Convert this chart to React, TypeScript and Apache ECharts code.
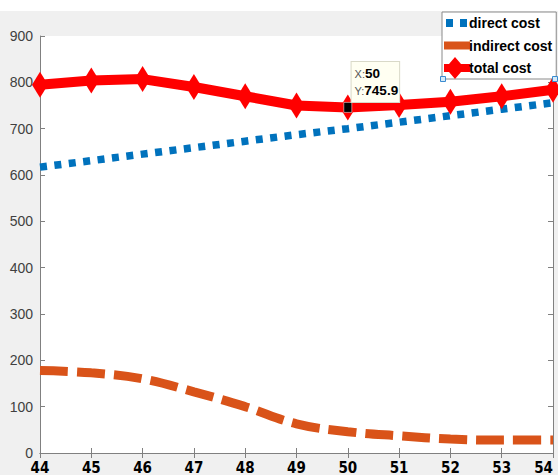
import React, { useEffect, useRef } from "react";
import * as echarts from "echarts";

const xValues = [44, 45, 46, 47, 48, 49, 50, 51, 52, 53, 54];
const directCost = [617, 631, 645, 659, 673, 687, 700, 714, 728, 742, 756];
const indirectCost = [178, 173, 160, 132, 100, 63, 46, 37, 30, 28, 28];
const totalCost = [795, 804, 807, 790, 770, 750, 745.9, 751, 758, 770, 784];
const seriesNames = ["direct cost", "indirect cost", "total cost"];
const tipPoint = { x: 50, y: 745.9 };

const pairs = (ys: number[]) => xValues.map((x, i) => [x, ys[i]]);

const axisColor = "#808080";

// tiny corner marks keep every icon's bounding box at 26 x 22
const corners = " M0,0h0.01v0.01h-0.01Z M25.99,21.99h0.01v0.01h-0.01Z";
const iconDirect = "path://M2,7H9V15H2Z M16,7H23V15H16Z" + corners;
const iconIndirect = "path://M0,7H26V15H0Z" + corners;
const iconTotal = "path://M0,7H5L11,0L17,7H26V15H17L11,22L5,15H0Z" + corners;

export default function App() {
  const ref = useRef<HTMLDivElement>(null);
  useEffect(() => {
    if (!ref.current) return;
    const chart = echarts.init(ref.current, undefined, { renderer: "svg" });
    const baseX = {
      type: "value" as const,
      min: 44,
      max: 54,
      interval: 1,
      splitLine: { show: false },
      axisLine: { show: true, lineStyle: { color: axisColor, width: 1 } },
      axisTick: { show: true, inside: true, length: 5, lineStyle: { color: axisColor } },
    };
    const baseY = {
      type: "value" as const,
      min: 0,
      max: 900,
      interval: 100,
      splitLine: { show: false },
      axisLine: { show: true, lineStyle: { color: axisColor, width: 1 } },
      axisTick: { show: true, inside: true, length: 5, lineStyle: { color: axisColor } },
    };
    chart.setOption({
      animation: false,
      backgroundColor: "#f0f0f0",
      grid: {
        left: 40,
        top: 36,
        right: 5,
        bottom: 22,
        containLabel: false,
        outerBoundsMode: "none",
        show: true,
        backgroundColor: "#ffffff",
        borderWidth: 0,
      },
      graphic: [
        { type: "rect", left: 0, top: 0, shape: { width: 558, height: 11 }, style: { fill: "#ffffff" }, z: 0 },
        { type: "rect", left: 440, top: 76, shape: { width: 5, height: 5 }, style: { fill: "#d6eaf8", stroke: "#3a8bd0", lineWidth: 1 }, z: 100 },
        { type: "rect", left: 552, top: 76, shape: { width: 5, height: 5 }, style: { fill: "#d6eaf8", stroke: "#3a8bd0", lineWidth: 1 }, z: 100 },
      ],
      legend: {
        data: [
          { name: seriesNames[0], icon: iconDirect, itemStyle: { color: "#0072BD" } },
          { name: seriesNames[1], icon: iconIndirect, itemStyle: { color: "#D95319" } },
          { name: seriesNames[2], icon: iconTotal, itemStyle: { color: "#ff0000" } },
        ],
        orient: "vertical",
        left: 442,
        top: 12,
        padding: [0, 4, 0, 2],
        itemGap: 0.5,
        itemWidth: 26,
        itemHeight: 22,
        symbolKeepAspect: false,
        backgroundColor: "#ffffff",
        borderColor: "#8a8a8a",
        borderWidth: 1,
        borderRadius: 0,
        selectedMode: false,
        textStyle: {
          fontFamily: "Liberation Sans, Arial, sans-serif",
          fontWeight: "bold",
          fontSize: 14,
          color: "#000000",
          padding: [0, 0, 0, -6],
        },
      },
      xAxis: [
        {
          ...baseX,
          position: "bottom",
          axisLabel: {
            show: true,
            margin: 7,
            color: "#000000",
            fontFamily: "Liberation Sans Narrow, DejaVu Sans Condensed, Liberation Sans, sans-serif",
            fontWeight: "bold",
            fontSize: 15,
            alignMaxLabel: "right",
          },
        },
        { ...baseX, position: "top", axisLabel: { show: false } },
      ],
      yAxis: [
        {
          ...baseY,
          position: "left",
          axisLabel: {
            show: true,
            margin: 7,
            color: "#404040",
            fontFamily: "Liberation Sans, Arial, sans-serif",
            fontSize: 14,
          },
        },
        { ...baseY, position: "right", axisLabel: { show: false } },
      ],
      series: [
        {
          name: seriesNames[0],
          type: "line",
          xAxisIndex: 0,
          yAxisIndex: 0,
          data: pairs(directCost),
          symbol: "none",
          color: "#0072BD",
          lineStyle: { color: "#0072BD", width: 7.5, type: [7, 7.5], cap: "butt" },
          z: 2,
        },
        {
          name: seriesNames[1],
          type: "line",
          xAxisIndex: 0,
          yAxisIndex: 0,
          data: pairs(indirectCost),
          symbol: "none",
          smooth: 0.4,
          color: "#D95319",
          lineStyle: { color: "#D95319", width: 9, type: [28, 9], cap: "butt" },
          z: 3,
        },
        {
          name: seriesNames[2],
          type: "line",
          xAxisIndex: 0,
          yAxisIndex: 0,
          data: pairs(totalCost),
          symbol: "diamond",
          symbolSize: [16, 26],
          showAllSymbol: true,
          color: "#ff0000",
          itemStyle: { color: "#ff0000" },
          lineStyle: { color: "#ff0000", width: 10 },
          z: 4,
          markPoint: {
            symbol: "rect",
            symbolSize: [8, 10],
            itemStyle: { color: "#000000", borderColor: "#ffffff", borderWidth: 0.5 },
            data: [
              {
                coord: [tipPoint.x, tipPoint.y],
                label: {
                  show: true,
                  position: [8, -40],
                  align: "left",
                  verticalAlign: "top",
                  backgroundColor: "#fffff2",
                  borderColor: "#d9d9c8",
                  borderWidth: 1,
                  padding: [3, 1, 3, 3],
                  lineHeight: 17,
                  formatter: `{a|X:}{b|${tipPoint.x}}\n{a|Y:}{b|${tipPoint.y}}`,
                  rich: {
                    a: { fontSize: 11, color: "#555555", fontFamily: "Liberation Sans, Arial, sans-serif", lineHeight: 17 },
                    b: { fontSize: 13.5, fontWeight: "bold", color: "#000000", fontFamily: "Liberation Sans, Arial, sans-serif", lineHeight: 17 },
                  },
                },
              },
            ],
          },
        },
      ],
    });
    return () => chart.dispose();
  }, []);
  return (
    <div
      ref={ref}
      style={{ position: "fixed", left: 0, top: 0, width: 558, height: 475 }}
    />
  );
}
